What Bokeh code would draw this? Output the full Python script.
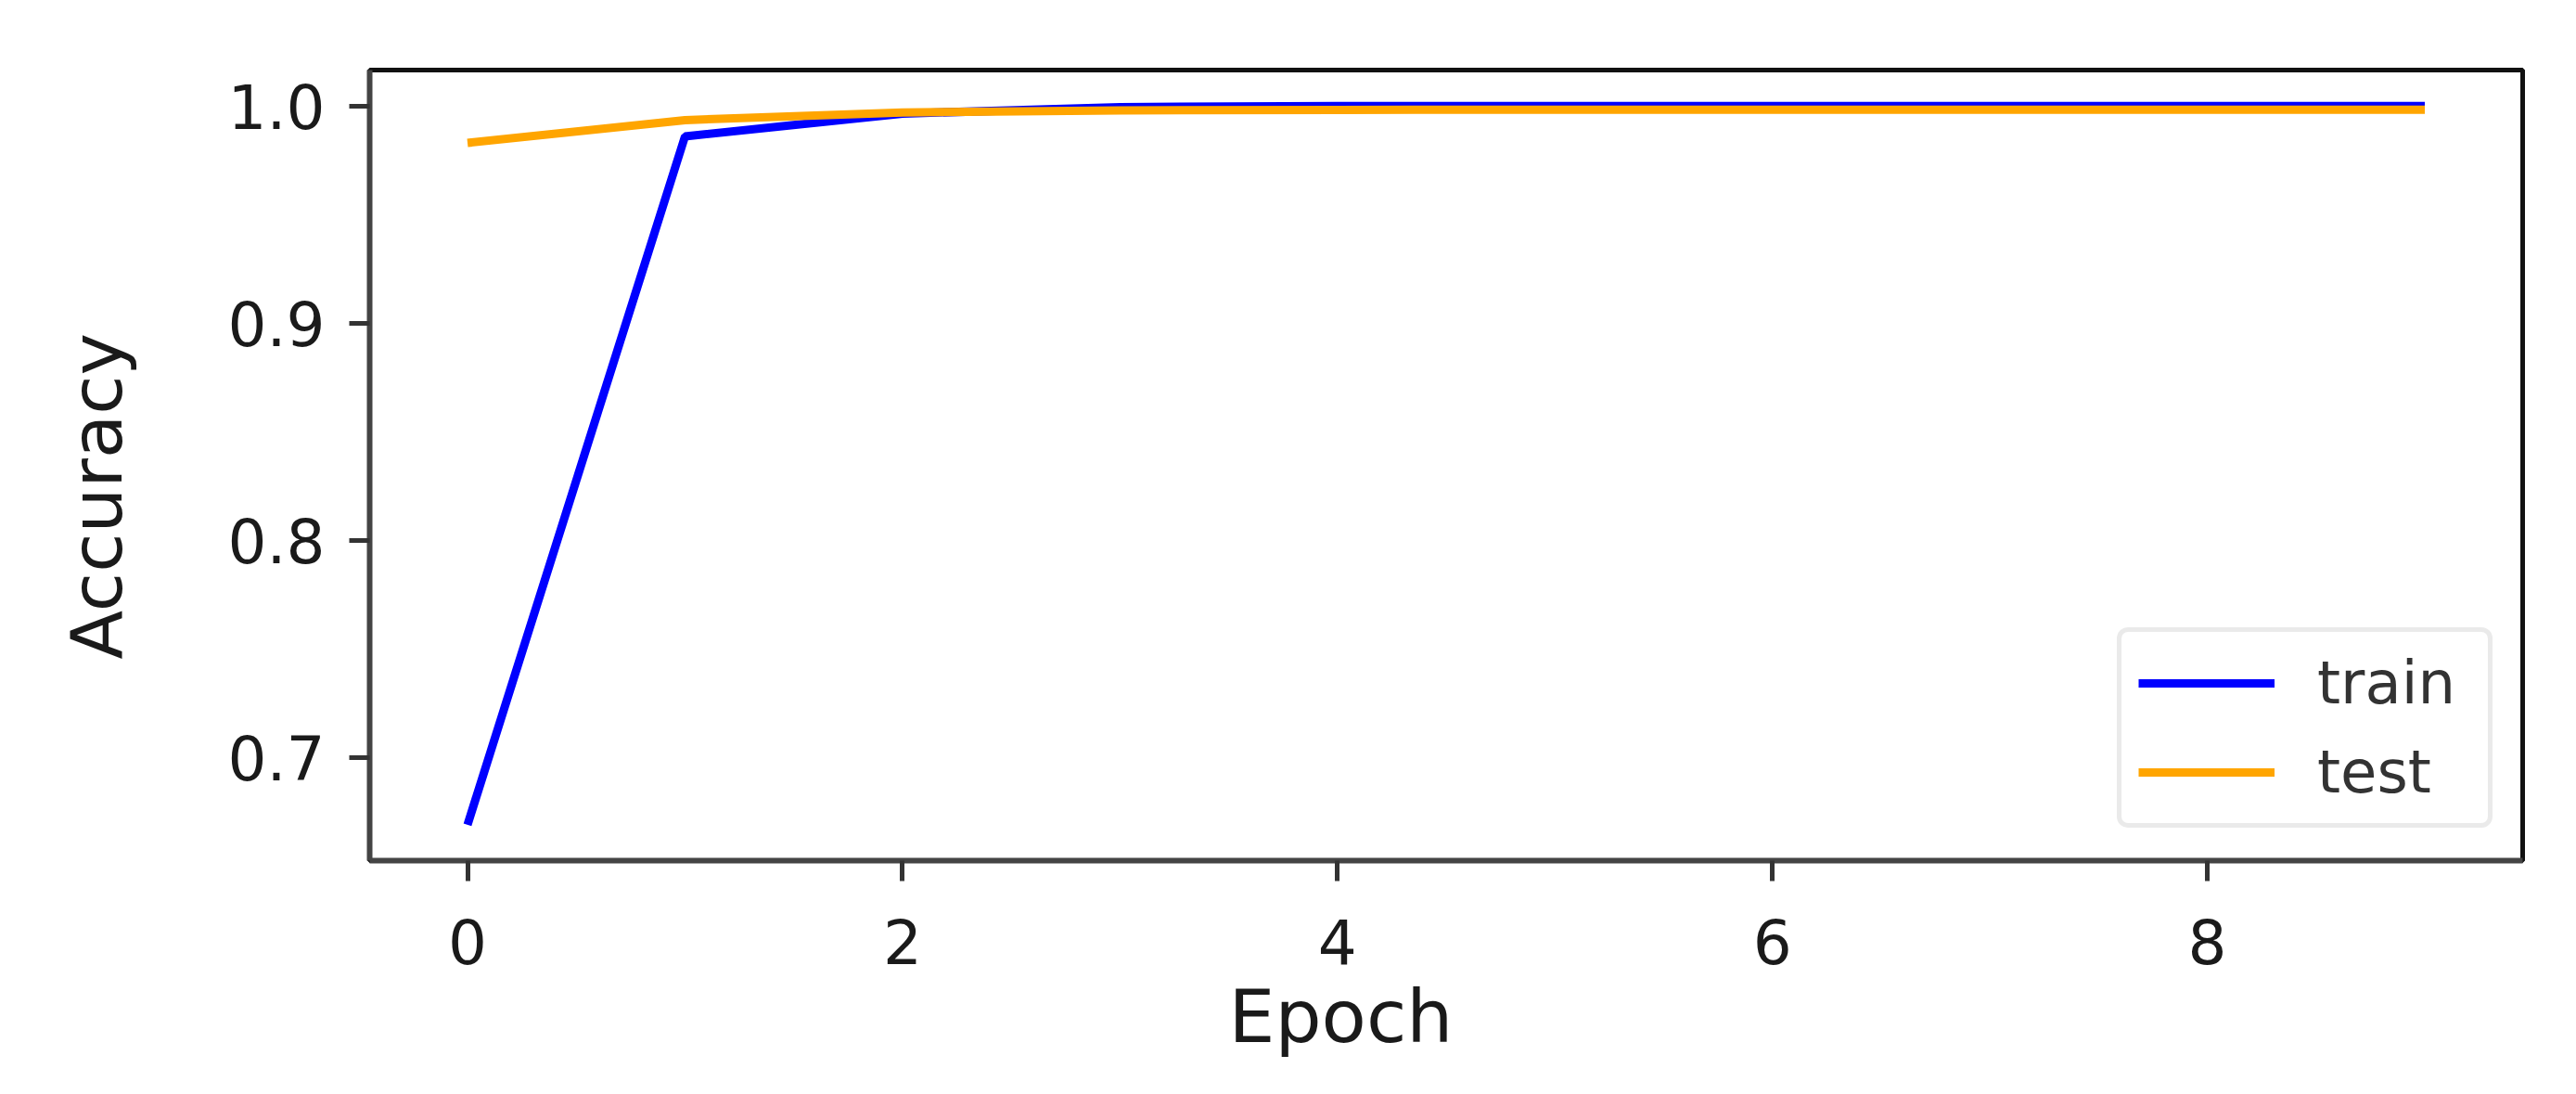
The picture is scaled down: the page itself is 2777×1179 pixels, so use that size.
from bokeh.plotting import figure
from bokeh.models import Range1d, FixedTicker, Title, NumeralTickFormatter
from bokeh.embed import file_html
from bokeh.resources import INLINE

# ---- data ----
epochs = [0, 1, 2, 3, 4, 5, 6, 7, 8, 9]
train_acc = [0.669, 0.986, 0.9965, 0.9995, 1.0, 1.0, 1.0, 1.0, 1.0, 1.0]
test_acc = [0.983, 0.9935, 0.997, 0.998, 0.9982, 0.9983, 0.9983, 0.9983, 0.9983, 0.9983]
x_ticks = [0, 2, 4, 6, 8]
y_ticks = [0.7, 0.8, 0.9, 1.0]
series_names = ["train", "test"]
series_colors = ["#0000ff", "#ffa500"]

FONT = "DejaVu Sans"

# matplotlib-like 5% margins
xmin, xmax = min(epochs), max(epochs)
allv = train_acc + test_acc
ymin, ymax = min(allv), max(allv)
xr = Range1d(xmin - 0.05 * (xmax - xmin), xmax + 0.05 * (xmax - xmin))
yr = Range1d(ymin - 0.05 * (ymax - ymin), ymax + 0.05 * (ymax - ymin))

SHIFT = 40           # canvas pulled left by this much (negative CSS margin)
W, H = 2760 + SHIFT, 1162
p = figure(width=W, height=H, x_range=xr, y_range=yr,
           output_backend="svg", toolbar_location=None,
           min_border_left=398 + SHIFT, min_border_right=W - (2719 + SHIFT),
           min_border_top=75, min_border_bottom=H - 927,
           margin=(0, 0, 0, -SHIFT))
p.background_fill_color = "white"
p.border_fill_color = "white"
p.grid.visible = False
p.outline_line_color = "#111111"
p.outline_line_width = 5

for ys, name, col in zip([train_acc, test_acc], series_names, series_colors):
    p.line(epochs, ys, line_color=col, line_width=9, legend_label=name)

for ax in (p.xaxis[0], p.yaxis[0]):
    ax.axis_line_color = "#444444"
    ax.axis_line_width = 6
    ax.major_tick_line_color = "#333333"
    ax.major_tick_line_width = 5
    ax.major_tick_in = 0
    ax.major_tick_out = 22
    ax.minor_tick_line_color = None
    ax.major_label_text_font = FONT
    ax.major_label_text_font_size = "66px"
    ax.major_label_text_color = "#1a1a1a"

p.xaxis.major_label_standoff = 40
p.yaxis.major_label_standoff = 26

p.xaxis.ticker = FixedTicker(ticks=x_ticks)
p.yaxis.ticker = FixedTicker(ticks=y_ticks)
p.yaxis.formatter = NumeralTickFormatter(format="0.0")

ylabel = Title(text="Accuracy", align="left", offset=217, standoff=188,
               text_font=FONT, text_font_size="77px", text_font_style="normal",
               text_color="#1a1a1a")
p.add_layout(ylabel, "left")

xlabel = Title(text="Epoch", align="left", offset=926, standoff=12,
               text_font=FONT, text_font_size="79px", text_font_style="normal",
               text_color="#1a1a1a")
p.add_layout(xlabel, "below")

lg = p.legend[0]
lg.location = (2282 - 398, 927 - 892)
lg.label_text_font = FONT
lg.label_text_font_size = "64px"
lg.label_text_color = "#333333"
lg.glyph_width = 147
lg.glyph_height = 72
lg.label_height = 72
lg.label_width = 166
lg.label_standoff = 46
lg.spacing = 22
lg.padding = 18
lg.margin = 0
lg.border_line_color = "#d6d6d6"
lg.border_line_width = 5
lg.border_radius = 12
lg.background_fill_color = "white"
lg.background_fill_alpha = 1.0

open("out.html", "w").write(file_html(p, INLINE))
